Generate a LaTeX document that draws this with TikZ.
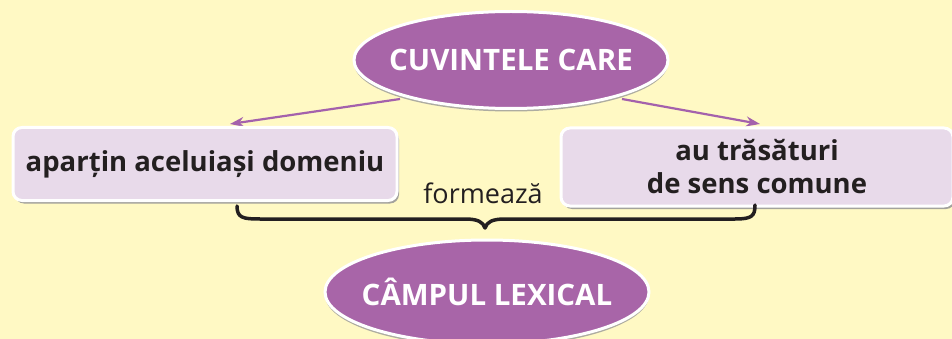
\documentclass[tikz,border=0pt]{standalone}
\usepackage{fontspec}
\setmainfont{Open Sans}
\usetikzlibrary{arrows.meta,shadows,shapes.geometric}
\definecolor{bg}{HTML}{FFF9C4}
\definecolor{purp}{HTML}{A865A8}
\definecolor{lav}{HTML}{E8DAEA}
\definecolor{txt}{HTML}{231F20}
\definecolor{arr}{HTML}{A461AC}
\newcommand{\ovaltext}[1]{\makebox[0pt]{#1}}
\tikzset{
  oval/.style={ellipse, fill=purp, draw=white, line width=3pt, text=white, inner sep=0pt,
    font=\fontsize{29.5}{32}\selectfont\bfseries,
    drop shadow={shadow xshift=0pt, shadow yshift=-3pt, fill=gray!80, opacity=0.8}},
  card/.style={rectangle, rounded corners=9pt, fill=lav, draw=white, line width=3pt, text=txt,
    font=\fontsize{27.5}{33}\selectfont\bfseries, align=center,
    drop shadow={shadow xshift=2pt, shadow yshift=-3pt, fill=gray!80, opacity=0.9}},
  link/.style={draw=arr, line width=2.2pt, -{Stealth[length=14pt,width=10pt]}},
  brace/.style={draw=txt, line width=3.5pt, line cap=round, line join=round}
}
\begin{document}
\begin{tikzpicture}[x=1pt,y=-1pt]
\fill[bg] (0,0) rectangle (952,339);
\useasboundingbox (0,0) rectangle (952,339);
% arrows under the top oval
\coordinate (ls) at (400,99);
\coordinate (rs) at (622,99);
\coordinate (lt) at (230,124);
\coordinate (rt) at (760,124);
\draw[link] (ls) -- (lt);
\draw[link] (rs) -- (rt);
\node[oval, minimum width=314pt, minimum height=97pt] (top) at (511,60) {\ovaltext{CUVINTELE CARE}};
\node[card, minimum width=384pt, minimum height=73pt, inner sep=0pt] (left) at (205,164) {aparțin aceluiași domeniu};
\node[card, minimum width=392pt, minimum height=78pt, inner sep=0pt] (right) at (757,167) {au trăsături\\de sens comune};
\node[font=\fontsize{27}{30}\selectfont, text=txt] (form) at (483,193) {formează};
% brace
\coordinate (b1) at (237,206);
\coordinate (b2) at (755,205);
\coordinate (bm) at (485,228);
\draw[brace] (b1) .. controls (237,218) and (243,219) .. (260,219) -- (465,219)
  .. controls (478,219) and (483,222) .. (bm)
  .. controls (487,222) and (492,219) .. (505,219) -- (735,219)
  .. controls (752,219) and (755,216) .. (b2);
\node[oval, minimum width=324pt, minimum height=104pt] (bot) at (487,292) {\ovaltext{CÂMPUL LEXICAL}};
\end{tikzpicture}
\end{document}
